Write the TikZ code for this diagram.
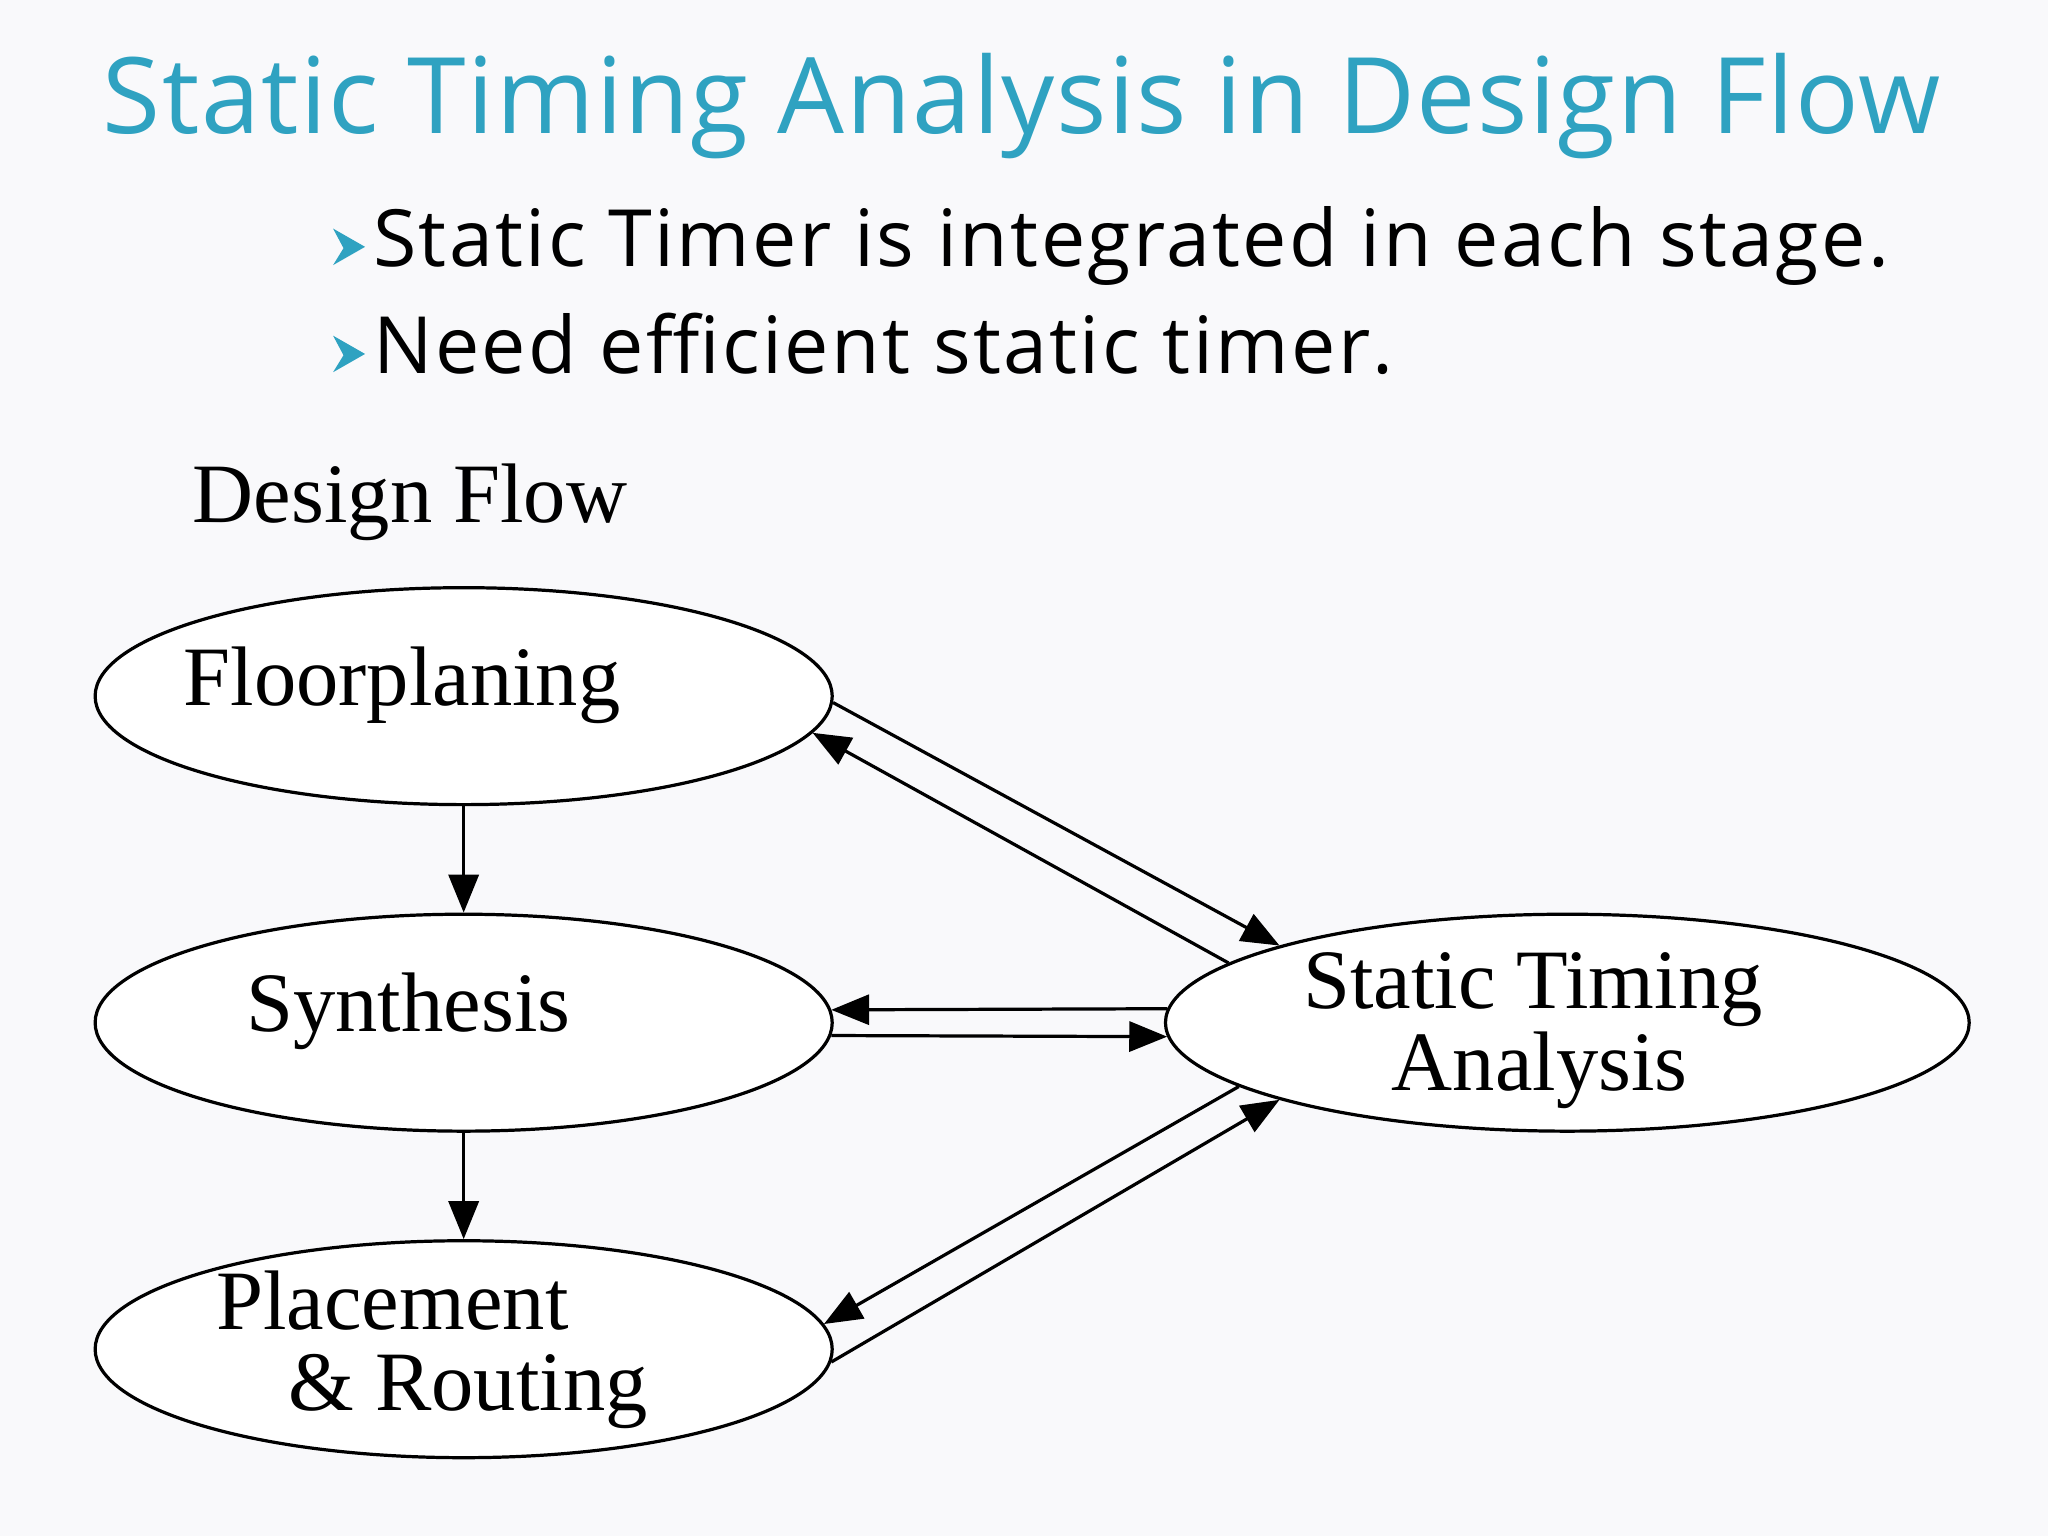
\documentclass[tikz,border=0pt]{standalone}
\usepackage{fontspec}
\setmainfont{Liberation Serif}
\newfontfamily\slidefont[LetterSpace=1.5]{Open Sans}
\newfontfamily\pointfont[LetterSpace=3.0]{Open Sans}
\usetikzlibrary{shapes.geometric,arrows.meta}

\definecolor{titleblue}{HTML}{2FA2C1}
\definecolor{slidebg}{HTML}{F9F9FB}

\tikzset{
  stage/.style={ellipse, draw, fill=white, line width=0.7pt,
    minimum width=5.64cm, minimum height=1.66cm, inner sep=0pt},
  stagetext/.style={font=\fontsize{18.4}{22}\selectfont, inner sep=0pt, anchor=base west},
  flow/.style={-{Triangle[length=2.9mm,width=2.3mm]}, line width=0.7pt},
  bullettext/.style={font=\pointfont\fontsize{17.2}{20}\selectfont, inner sep=0pt, anchor=base west}
}

\begin{document}
\begin{tikzpicture}[x=0.01cm,y=-0.01cm]
    % slide background
    \fill[slidebg] (0,0) rectangle (1568,1176);

    \node[font=\slidefont\fontsize{23}{26}\selectfont, text=titleblue, inner sep=0pt, anchor=base west] (title) at (78,102) {Static Timing Analysis in Design Flow};

    % bullets
    \foreach \y in {0,82}
        \fill[titleblue] (279.5,189+\y) -- (255,175+\y) -- (263,190+\y) -- (255,203+\y) -- cycle;
    \node[bullettext] (pt1) at (285,204) {Static Timer is integrated in each stage.};
    \node[bullettext] (pt2) at (285,286) {Need efficient static timer.};

    \node[stagetext] (flowname) at (147,400) {Design Flow};

    % stages
    \node[stage] (fp) at (355,533) {};
    \node[stage] (syn) at (355,783) {};
    \node[stage] (pr) at (355,1033) {};
    \node[stage, minimum width=6.15cm] (sta) at (1200,783) {};

    \node[stagetext] (fp-lbl) at (140,540) {Floorplaning};
    \node[stagetext] (syn-lbl) at (188,790) {Synthesis};
    \node[stagetext] (pr-lbl1) at (165,1018) {Placement};
    \node[stagetext] (pr-lbl2) at (220,1080) {\& Routing};
    \node[stagetext] (sta-lbl1) at (997,772) {Static Timing};
    \node[stagetext] (sta-lbl2) at (1065,835) {Analysis};

    % connectors
    \draw[flow] (fp.south) -- (syn.north);
    \draw[flow] (syn.south) -- (pr.north);
    \draw[flow] (fp.-1) -- (sta.165);
    \draw[flow] (sta.170) -- (fp.-6);
    \draw[flow] (sta.178) -- (syn.2);
    \draw[flow] (syn.-2.4) -- (sta.182);
    \draw[flow] (sta.191) -- (pr.4);
    \draw[flow] (pr.-2) -- (sta.195);
\end{tikzpicture}
\end{document}
